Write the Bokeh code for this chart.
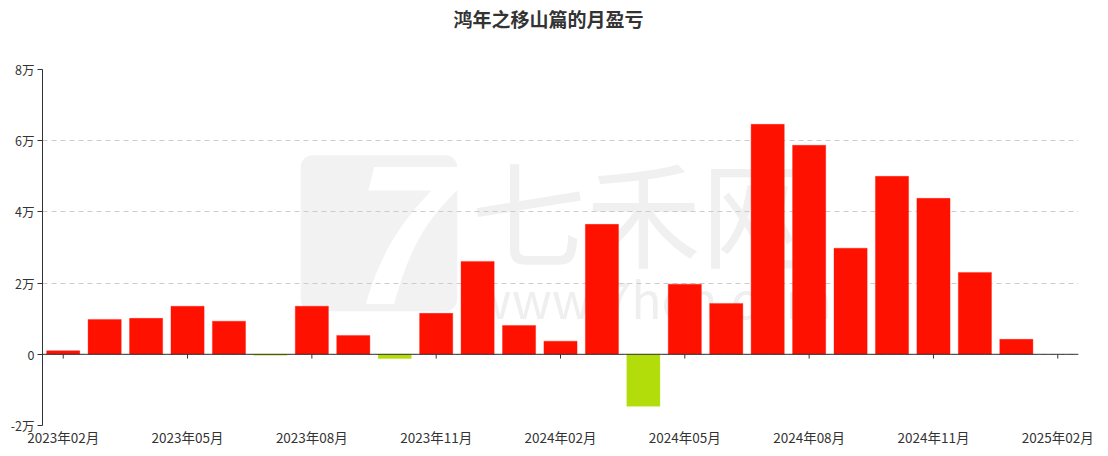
from bokeh.plotting import figure
from bokeh.models import (Range1d, FixedTicker, CustomJSTickFormatter,
                          Span, Label, BoxAnnotation, ColumnDataSource, Title)
from bokeh.embed import file_html
from bokeh.resources import INLINE

# ---- data ----
months = ["2023年02月", "2023年03月", "2023年04月", "2023年05月", "2023年06月", "2023年07月",
          "2023年08月", "2023年09月", "2023年10月", "2023年11月", "2023年12月", "2024年01月",
          "2024年02月", "2024年03月", "2024年04月", "2024年05月", "2024年06月", "2024年07月",
          "2024年08月", "2024年09月", "2024年10月", "2024年11月", "2024年12月", "2025年01月",
          "2025年02月"]
pnl = [1000, 9800, 10100, 13500, 9300, -300, 13500, 5300, -1200, 11500, 26100, 8100,
       3700, 36500, -14600, 19700, 14300, 64600, 58700, 29800, 50000, 43800, 23000, 4200]
label_months = ["2023年02月", "2023年05月", "2023年08月", "2023年11月", "2024年02月",
                "2024年05月", "2024年08月", "2024年11月", "2025年02月"]
y_ticks = [-20000, 0, 20000, 40000, 60000, 80000]
title_text = "鸿年之移山篇的月盈亏"

FONT = "Noto Sans CJK SC"
RED = "#ff1100"
GREEN = "#b2dd0a"

idx = {m: i for i, m in enumerate(months)}
colors = [RED if v >= 0 else GREEN for v in pnl]
src = ColumnDataSource(dict(x=[idx[m] for m in months[:len(pnl)]], value=pnl, color=colors))
tick_pos = [idx[m] for m in label_months]

p = figure(width=1108, height=456,
           x_range=Range1d(-0.5, len(months) - 0.5),
           y_range=Range1d(y_ticks[0], y_ticks[-1]),
           output_backend="svg", toolbar_location=None,
           min_border_left=42, min_border_right=30, min_border_top=69, min_border_bottom=31)
p.outline_line_color = None
p.background_fill_color = "white"

# spacer between title and frame
p.add_layout(Title(text=" ", text_font_size="16px", text_color="white", standoff=17), "above")

# title
p.title.text = title_text
p.title.align = "left"
p.title.offset = 411
p.title.text_font = FONT
p.title.text_font_size = "19px"
p.title.text_font_style = "bold"
p.title.text_color = "#333333"
p.title.standoff = 4

# watermark
p.add_layout(BoxAnnotation(left=5.73, right=9.51, top=55900, bottom=12080,
                           fill_color="#f2f2f2", fill_alpha=1, line_color=None,
                           border_radius=12, level="image"))
p.add_layout(Label(x=7.8, y=34000, text="7", text_font=FONT,
                   text_font_size="190px", text_font_style="bold italic",
                   text_color="white", text_align="center", text_baseline="middle",
                   level="image"))
p.add_layout(Label(x=14.0, y=40700, text="七禾网", text_font=FONT, text_font_size="115px",
                   text_color="#f0f0f0", text_align="center", text_baseline="middle",
                   level="image"))
p.add_layout(Label(x=14.2, y=16000, text="www.7hcn.com", text_font=FONT,
                   text_font_size="50px", text_color="#efefef", text_align="center",
                   text_baseline="middle", level="image"))

# bars
p.vbar(x="x", top="value", bottom=0, width=0.8, fill_color="color", line_color="color",
       line_alpha=0.35, line_width=1, source=src)

# zero line and its ticks
p.add_layout(Span(location=0, dimension="width", line_color="#333333", line_width=1))
p.segment(x0=tick_pos, x1=tick_pos, y0=[0] * len(tick_pos),
          y1=[-1200] * len(tick_pos), line_color="#333333", line_width=1)

# y axis
p.yaxis.ticker = FixedTicker(ticks=y_ticks)
p.yaxis.formatter = CustomJSTickFormatter(code="return tick == 0 ? '0' : (tick/10000) + '万';")
p.yaxis.axis_line_color = "#333333"
p.yaxis.major_tick_line_color = "#333333"
p.yaxis.major_tick_out = 5
p.yaxis.major_tick_in = 0
p.yaxis.minor_tick_line_color = None
p.yaxis.major_label_text_font = FONT
p.yaxis.major_label_text_font_size = "12.5px"
p.yaxis.major_label_text_color = "#333333"
p.yaxis.major_label_standoff = 3

# x axis
p.xaxis.ticker = FixedTicker(ticks=tick_pos)
p.xaxis.major_label_overrides = {i: m for i, m in zip(tick_pos, label_months)}
p.xaxis.axis_line_color = None
p.xaxis.major_tick_line_color = None
p.xaxis.minor_tick_line_color = None
p.xaxis.major_tick_out = 0
p.xaxis.major_tick_in = 0
p.xaxis.major_label_standoff = 1
p.xaxis.major_label_text_font = FONT
p.xaxis.major_label_text_font_size = "13.5px"
p.xaxis.major_label_text_color = "#333333"

# grid
p.xgrid.grid_line_color = None
p.ygrid.grid_line_color = "#cccccc"
p.ygrid.grid_line_dash = "5 4"
p.ygrid.grid_line_width = 1

open("out.html", "w").write(file_html(p, INLINE))
